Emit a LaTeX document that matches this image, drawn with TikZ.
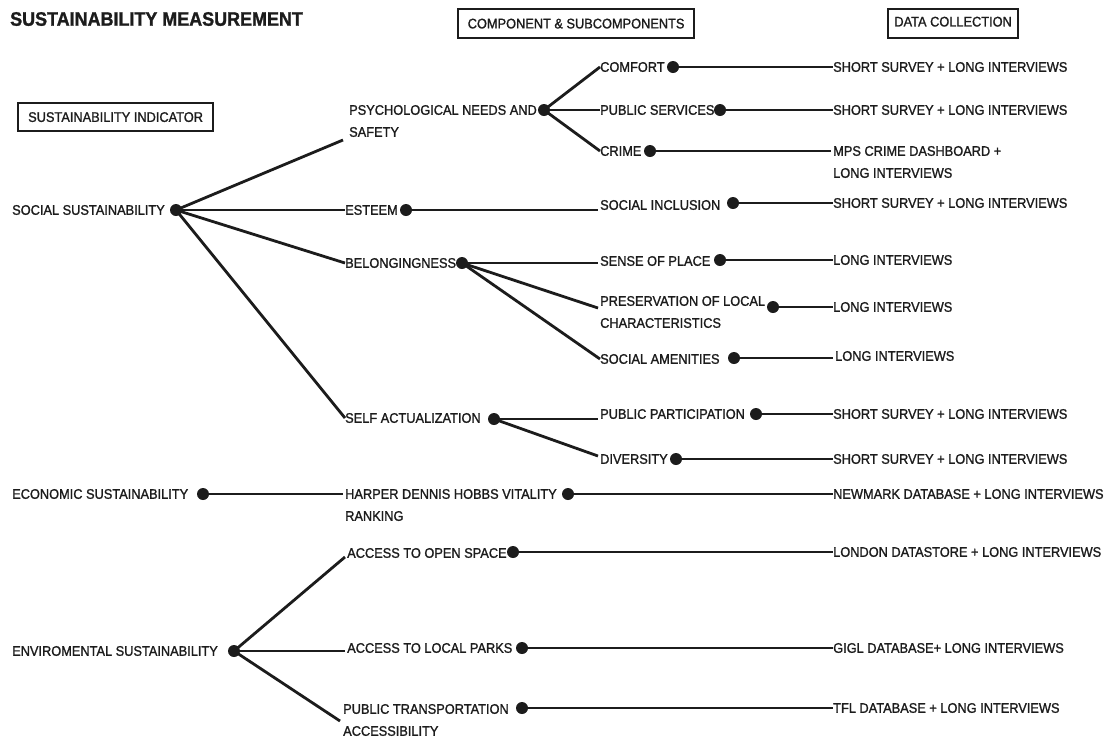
\documentclass[tikz,border=0pt]{standalone}
\usepackage{fontspec}
\setmainfont{Liberation Sans}[FakeStretch=0.92, FakeBold=1.3]
\definecolor{ink}{RGB}{28,28,28}
\tikzset{
  lbl/.style={anchor=west, inner sep=0pt, font=\fontsize{13.9}{22}\selectfont, text=ink, align=left},
  dot/.style={circle, fill=ink, draw=none, inner sep=0pt, minimum size=12pt},
  link/.style={draw=ink, line width=2.8pt},
  hdr/.style={draw=ink, line width=2.2pt, anchor=north west, inner sep=0pt, font=\fontsize{13.9}{15}\selectfont, text=ink}
}
\begin{document}
\begin{tikzpicture}[x=1pt,y=-1pt]
\useasboundingbox (0,0) rectangle (1111,740);
% title and headers
\node[anchor=west, inner sep=0pt, font=\fontsize{19.5}{24}\selectfont\bfseries, text=ink] (title) at (10,19) {SUSTAINABILITY MEASUREMENT};
\node[hdr, minimum width=195pt, minimum height=28pt] (hsi) at (17,102) {SUSTAINABILITY INDICATOR};
\node[hdr, minimum width=236pt, minimum height=29pt] (hcs) at (457,8) {COMPONENT \& SUBCOMPONENTS};
\node[hdr, minimum width=130pt, minimum height=29pt, text depth=4pt] (hdc) at (887,8) {DATA COLLECTION};

% indicators
\node[lbl] (social) at (12,210) {SOCIAL SUSTAINABILITY};
\node[lbl] (econ) at (12,494) {ECONOMIC SUSTAINABILITY};
\node[lbl] (env) at (12,651) {ENVIROMENTAL SUSTAINABILITY};

% components
\node[lbl] (psych) at (349,121) {PSYCHOLOGICAL NEEDS AND\\SAFETY};
\node[lbl] (esteem) at (345,210) {ESTEEM};
\node[lbl] (belong) at (345,263) {BELONGINGNESS};
\node[lbl] (self) at (345,418) {SELF ACTUALIZATION};
\node[lbl] (harper) at (345,505) {HARPER DENNIS HOBBS VITALITY\\RANKING};
\node[lbl] (open) at (347,553) {ACCESS TO OPEN SPACE};
\node[lbl] (parks) at (347,648) {ACCESS TO LOCAL PARKS};
\node[lbl] (trans) at (343,720) {PUBLIC TRANSPORTATION\\ACCESSIBILITY};

% subcomponents
\node[lbl] (comfort) at (600,67) {COMFORT};
\node[lbl] (pserv) at (600,110) {PUBLIC SERVICES};
\node[lbl] (crime) at (600,151) {CRIME};
\node[lbl] (sinc) at (600,205) {SOCIAL INCLUSION};
\node[lbl] (sense) at (600,261) {SENSE OF PLACE};
\node[lbl] (pres) at (600,312) {PRESERVATION OF LOCAL\\CHARACTERISTICS};
\node[lbl] (amen) at (600,359) {SOCIAL AMENITIES};
\node[lbl] (ppart) at (600,414) {PUBLIC PARTICIPATION};
\node[lbl] (div) at (600,459) {DIVERSITY};

% data collection
\node[lbl] (c1) at (833,67) {SHORT SURVEY + LONG INTERVIEWS};
\node[lbl] (c2) at (833,110) {SHORT SURVEY + LONG INTERVIEWS};
\node[lbl] (c3) at (833,162) {MPS CRIME DASHBOARD +\\LONG INTERVIEWS};
\node[lbl] (c4) at (833,203) {SHORT SURVEY + LONG INTERVIEWS};
\node[lbl] (c5) at (833,260) {LONG INTERVIEWS};
\node[lbl] (c6) at (833,307) {LONG INTERVIEWS};
\node[lbl] (c7) at (835,356) {LONG INTERVIEWS};
\node[lbl] (c8) at (833,414) {SHORT SURVEY + LONG INTERVIEWS};
\node[lbl] (c9) at (833,459) {SHORT SURVEY + LONG INTERVIEWS};
\node[lbl] (c10) at (833,494) {NEWMARK DATABASE + LONG INTERVIEWS};
\node[lbl] (c11) at (833,552) {LONDON DATASTORE + LONG INTERVIEWS};
\node[lbl] (c12) at (833,648) {GIGL DATABASE+ LONG INTERVIEWS};
\node[lbl] (c13) at (833,708) {TFL DATABASE + LONG INTERVIEWS};

% connector end points
\coordinate (psychin) at (343,140);
\coordinate (sincin) at (598,210);
\coordinate (sensein) at (598,263);
\coordinate (presin) at (598,308);
\coordinate (pinpart) at (598,419);
\coordinate (divin) at (598,456);
\coordinate (harpin) at (343,494);
\coordinate (openin) at (345,557);
\coordinate (parksin) at (345,651);
\coordinate (transin) at (340,721);
\coordinate (c3in) at (831,151);
\coordinate (c7in) at (833,358);

% dots
\node[dot] (dsoc) at (176,210) {};
\node[dot] (dpsy) at (544,110) {};
\node[dot] (dest) at (406,210) {};
\node[dot] (dbel) at (462,263) {};
\node[dot] (dself) at (494,419) {};
\node[dot] (dcom) at (673,67) {};
\node[dot] (dpserv) at (720,110) {};
\node[dot] (dcrime) at (650,151) {};
\node[dot] (dsinc) at (733,203) {};
\node[dot] (dsense) at (720,260) {};
\node[dot] (dpres) at (773,307) {};
\node[dot] (damen) at (734,358) {};
\node[dot] (dppart) at (756,414) {};
\node[dot] (ddiv) at (676,459) {};
\node[dot] (decon) at (203,494) {};
\node[dot] (dharp) at (568,494) {};
\node[dot] (denv) at (234,651) {};
\node[dot] (dopen) at (513,552) {};
\node[dot] (dparks) at (522,648) {};
\node[dot] (dtrans) at (522,708) {};

% connectors: indicator -> component
\draw[link] (dsoc.center) -- (psychin);
\draw[link] (dsoc.center) -- (esteem.west);
\draw[link] (dsoc.center) -- (belong.west);
\draw[link] (dsoc.center) -- (self.west);
\draw[link] (decon.center) -- (harpin);
\draw[link] (denv.center) -- (openin);
\draw[link] (denv.center) -- (parksin);
\draw[link] (denv.center) -- (transin);

% component -> subcomponent
\draw[link] (dpsy.center) -- (comfort.west);
\draw[link] (dpsy.center) -- (pserv.west);
\draw[link] (dpsy.center) -- (crime.west);
\draw[link] (dest.center) -- (sincin);
\draw[link] (dbel.center) -- (sensein);
\draw[link] (dbel.center) -- (presin);
\draw[link] (dbel.center) -- (amen.west);
\draw[link] (dself.center) -- (pinpart);
\draw[link] (dself.center) -- (divin);

% -> data collection
\draw[link] (dcom.center) -- (c1.west);
\draw[link] (dpserv.center) -- (c2.west);
\draw[link] (dcrime.center) -- (c3in);
\draw[link] (dsinc.center) -- (c4.west);
\draw[link] (dsense.center) -- (c5.west);
\draw[link] (dpres.center) -- (c6.west);
\draw[link] (damen.center) -- (c7in);
\draw[link] (dppart.center) -- (c8.west);
\draw[link] (ddiv.center) -- (c9.west);
\draw[link] (dharp.center) -- (c10.west);
\draw[link] (dopen.center) -- (c11.west);
\draw[link] (dparks.center) -- (c12.west);
\draw[link] (dtrans.center) -- (c13.west);
\end{tikzpicture}
\end{document}
